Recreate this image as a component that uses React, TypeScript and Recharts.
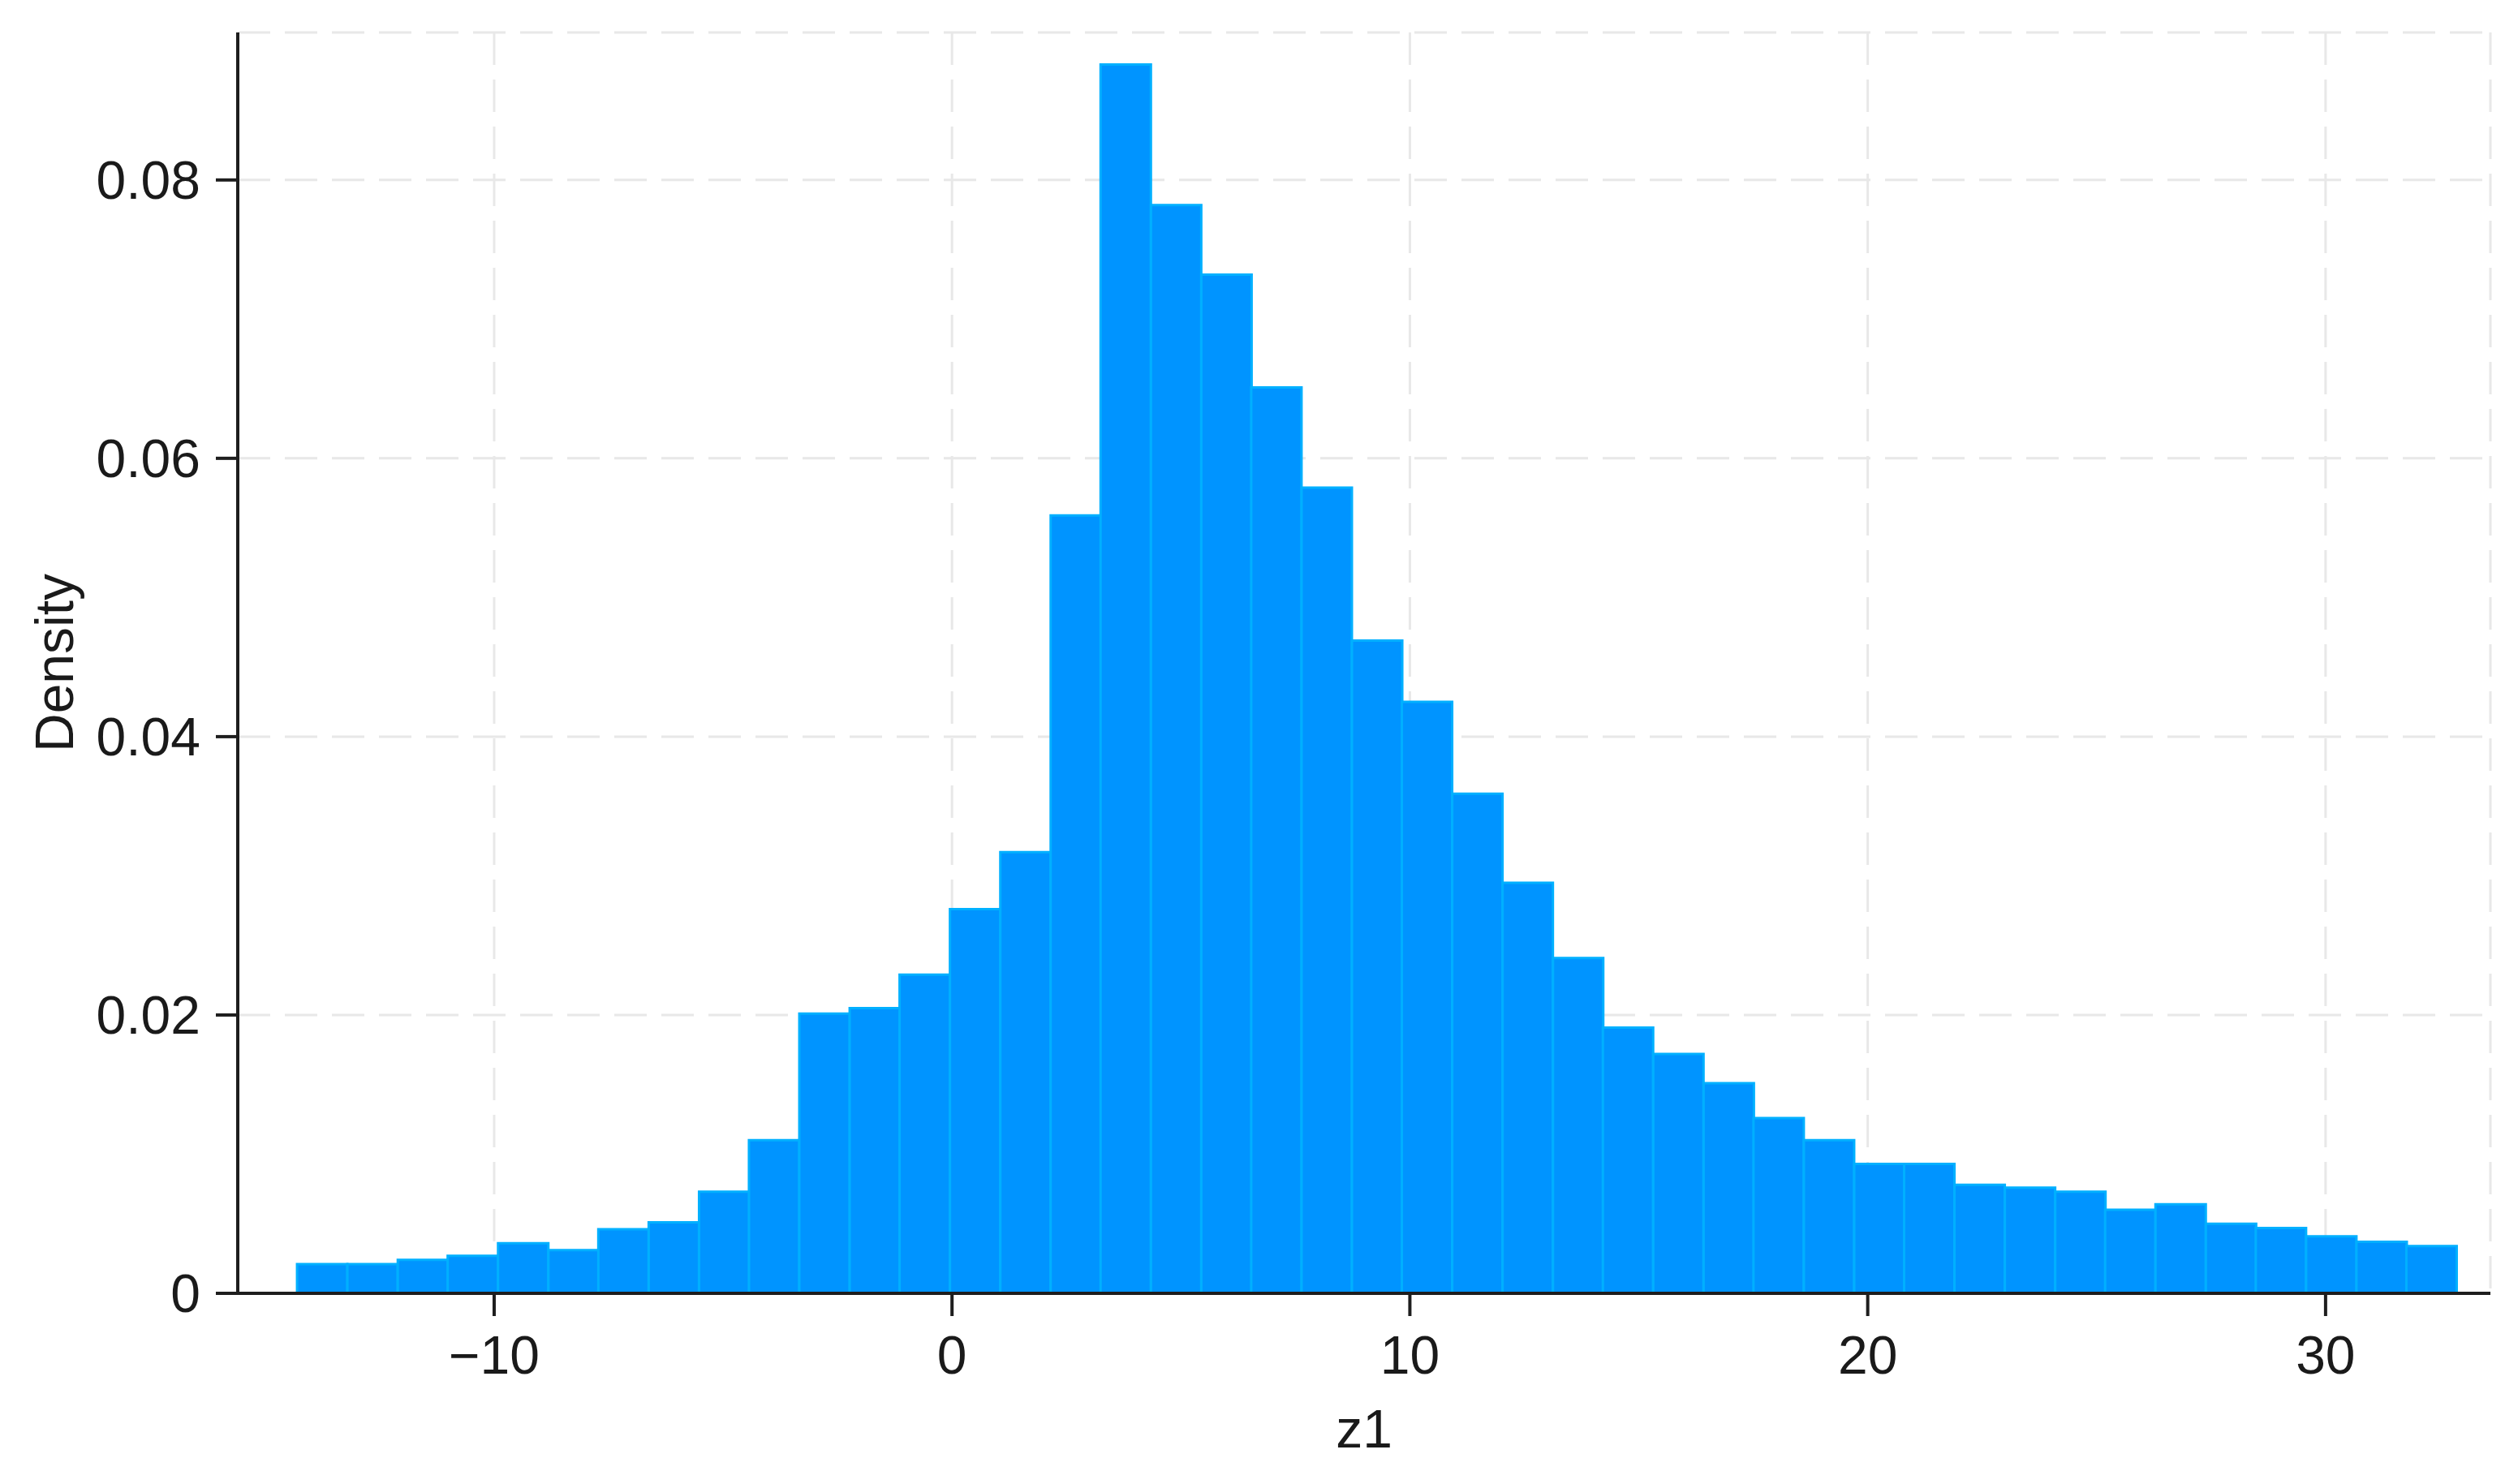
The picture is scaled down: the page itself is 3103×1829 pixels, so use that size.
import { ComposedChart, Bar, XAxis, YAxis, CartesianGrid, Label } from 'recharts'

// histogram bins of z1 (bin centres, width ~1.1)
const binCenters = [
  -13.76, -12.66, -11.56, -10.47, -9.37, -8.27, -7.18, -6.08, -4.98, -3.89,
  -2.79, -1.69, -0.6, 0.5, 1.6, 2.7, 3.79, 4.89, 5.99, 7.08,
  8.18, 9.28, 10.37, 11.47, 12.57, 13.67, 14.76, 15.86, 16.96, 18.05,
  19.15, 20.25, 21.34, 22.44, 23.54, 24.64, 25.73, 26.83, 27.93, 29.02,
  30.12, 31.22, 32.31,
]

const density = [
  0.0021, 0.0021, 0.0024, 0.0027, 0.0036, 0.0031, 0.0046, 0.0051, 0.0073, 0.011,
  0.0201, 0.0205, 0.0229, 0.0276, 0.0317, 0.0559, 0.0883, 0.0782, 0.0732, 0.0651,
  0.0579, 0.0469, 0.0425, 0.0359, 0.0295, 0.0241, 0.0191, 0.0172, 0.0151, 0.0126,
  0.011, 0.0093, 0.0093, 0.0078, 0.0076, 0.0073, 0.006, 0.0064, 0.005, 0.0047,
  0.0041, 0.0037, 0.0034,
]

const xTicks = [-10, 0, 10, 20, 30]
const yTicks = [0, 0.02, 0.04, 0.06, 0.08]

const data = binCenters.map((x, i) => ({ x, density: density[i] }))

const FONT = '"Liberation Sans", Arial, sans-serif'
const tickStyle = { fontSize: 66, fontFamily: FONT, fill: '#1a1a1a' }
const axisLine = { stroke: '#1e1e1e', strokeWidth: 4 }

export default function App() {
  return (
    <div style={{ position: 'absolute', left: 0, top: 0, background: '#fff' }}>
      <ComposedChart
        width={3103}
        height={1829}
        data={data}
        margin={{ top: 40, right: 34, left: 0, bottom: 0 }}
        barCategoryGap={0}
        barGap={0}
      >
        <CartesianGrid stroke="#e8e8e8" strokeWidth={3} strokeDasharray="40 18" />
        <Bar
          dataKey="density"
          fill="#0094ff"
          stroke="#00b0ff"
          strokeWidth={3}
          isAnimationActive={false}
        />
        <XAxis
          dataKey="x"
          type="number"
          domain={[-15.6, 33.6]}
          ticks={xTicks}
          height={235}
          tick={tickStyle}
          tickSize={28}
          tickMargin={24}
          axisLine={axisLine}
          tickLine={axisLine}
          tickFormatter={(v: number) => String(v).replace('-', '\u2212')}
        >
          <Label
            value="z1"
            position="insideBottom"
            offset={45}
            style={{ fontSize: 66, fontFamily: FONT, fill: '#1a1a1a' }}
          />
        </XAxis>
        <YAxis
          type="number"
          domain={[0, 0.0906]}
          ticks={yTicks}
          width={293}
          tick={tickStyle}
          tickSize={27}
          tickMargin={19}
          axisLine={axisLine}
          tickLine={axisLine}
        >
          <Label
            value="Density"
            angle={-90}
            position="insideLeft"
            offset={67}
            style={{ fontSize: 66, fontFamily: FONT, fill: '#1a1a1a', textAnchor: 'middle' }}
          />
        </YAxis>
      </ComposedChart>
    </div>
  )
}
